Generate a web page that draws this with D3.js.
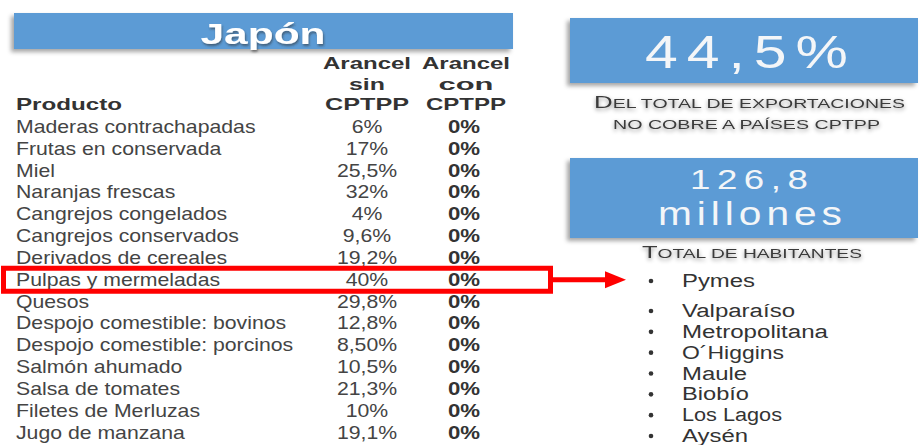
<!DOCTYPE html>
<html><head><meta charset="utf-8">
<script src="https://cdn.jsdelivr.net/npm/d3@7"></script>
<style>html,body{margin:0;padding:0;background:#fff;}svg{display:block;}</style>
</head><body>
<script>
// ---- data ----
const titulo = "Japón";
const encabezadoProducto = "Producto";
const encabezadoSin = ["Arancel", "sin", "CPTPP"];
const encabezadoCon = ["Arancel", "con", "CPTPP"];
const productos = ["Maderas contrachapadas","Frutas en conservada","Miel","Naranjas frescas","Cangrejos congelados","Cangrejos conservados","Derivados de cereales","Pulpas y mermeladas","Quesos","Despojo comestible: bovinos","Despojo comestible: porcinos","Salmón ahumado","Salsa de tomates","Filetes de Merluzas","Jugo de manzana"];
const arancelSin = ["6%","17%","25,5%","32%","4%","9,6%","19,2%","40%","29,8%","12,8%","8,50%","10,5%","21,3%","10%","19,1%"];
const arancelCon = ["0%","0%","0%","0%","0%","0%","0%","0%","0%","0%","0%","0%","0%","0%","0%"];
const destacado = "Pulpas y mermeladas";
const cifraExport = "44,5%";
const textoExport = [["D","EL TOTAL DE EXPORTACIONES"],["","NO COBRE A PAÍSES CPTPP"]];
const cifraHab = ["126,8", "millones"];
const textoHab = ["T","OTAL DE HABITANTES"];
const listaPymes = ["Pymes"];
const listaRegiones = ["Valparaíso","Metropolitana","O´Higgins","Maule","Biobío","Los Lagos","Aysén"];

// ---- layout ----
const W = 924, H = 445;
const BLUE = "#5b9bd5";
const svg = d3.select("body").append("svg").attr("width", W).attr("height", H);
const defs = svg.append("defs");
defs.append("filter").attr("id","boxsh").attr("x","-10%").attr("y","-20%").attr("width","120%").attr("height","150%")
  .append("feDropShadow").attr("dx",-3).attr("dy",3).attr("stdDeviation",2).attr("flood-color","#000").attr("flood-opacity",0.35);
defs.append("filter").attr("id","titsh").attr("x","-10%").attr("y","-20%").attr("width","120%").attr("height","160%")
  .append("feDropShadow").attr("dx",1).attr("dy",2).attr("stdDeviation",1.2).attr("flood-color","#333").attr("flood-opacity",0.55);
defs.append("filter").attr("id","glow").attr("x","-10%").attr("y","-40%").attr("width","120%").attr("height","200%")
  .append("feDropShadow").attr("dx",0).attr("dy",2).attr("stdDeviation",2).attr("flood-color","#000").attr("flood-opacity",0.45);

function txt(g, s, x, y, o) {
  const t = g.append("text")
    .attr("transform", `translate(${x},${y}) scale(${o.sx||1},1)`)
    .attr("text-anchor", o.anchor || "start")
    .attr("font-family", o.family || "'Liberation Sans', Arial, sans-serif")
    .attr("font-size", o.size)
    .attr("font-weight", o.weight || "normal")
    .attr("fill", o.fill || "#404040")
    .text(s);
  if (o.ls) t.attr("letter-spacing", o.ls);
  if (o.len) t.attr("textLength", o.len).attr("lengthAdjust", o.adjust || "spacingAndGlyphs");
  if (o.filter) t.attr("filter", o.filter);
  return t;
}
// stretch a text horizontally so that its ink box spans [x0, x1]
function fitSpan(t, x0, x1, y) {
  t.attr("transform", null).attr("text-anchor","start").attr("x",0).attr("y",0);
  const b = t.node().getBBox();
  const ls = +(t.attr("letter-spacing") || 0);
  const w = b.width - ls;
  const sx = (x1 - x0) / w;
  t.attr("transform", `translate(${x0 - b.x*sx},${y}) scale(${sx},1)`);
}

// ---- table ----
const table = svg.append("g");
table.append("rect").attr("x",14).attr("y",13).attr("width",499).attr("height",36).attr("fill",BLUE).attr("filter","url(#boxsh)");
txt(table, titulo, 263, 43.5, {anchor:"middle", size:30, weight:"bold", fill:"#fff", len:125, filter:"url(#titsh)"});

const colX = d3.scaleOrdinal().domain(["prod","sin","con"]).range([16, 367, 465]);
const headY = d3.scaleLinear().domain([0,2]).range([69, 110]);
txt(table, encabezadoProducto, colX("prod"), headY(2), {size:17, weight:"bold", fill:"#333", len:106});
const hdrLenSin = [88, 36, 84], hdrLenCon = [88, 55, 80];
encabezadoSin.forEach((s,i)=>txt(table, s, colX("sin"), headY(i), {anchor:"middle", size:17, weight:"bold", fill:"#333", len:hdrLenSin[i]}));
encabezadoCon.forEach((s,i)=>txt(table, s, colX("con")+1, headY(i), {anchor:"middle", size:17, weight:"bold", fill:"#333", len:hdrLenCon[i]}));

const rowY = d3.scaleLinear().domain([0, productos.length-1]).range([133, 438.5]);
productos.forEach((p,i)=>{
  txt(table, p, colX("prod"), rowY(i), {size:18, sx:1.18, fill:"#444"});
  txt(table, arancelSin[i], colX("sin"), rowY(i), {anchor:"middle", size:18, sx:1.18, fill:"#444"});
  txt(table, arancelCon[i], colX("con")-1, rowY(i), {anchor:"middle", size:17.5, weight:"bold", sx:1.27, fill:"#333"});
});

// highlight box + arrow
const hi = productos.indexOf(destacado);
const hy = rowY(hi);
svg.append("rect").attr("x",3.5).attr("y",hy-17.5).attr("width",547).attr("height",23)
  .attr("fill","none").attr("stroke","#ff0000").attr("stroke-width",5);
svg.append("line").attr("x1",553).attr("x2",607).attr("y1",hy-6).attr("y2",hy-6).attr("stroke","#ff0000").attr("stroke-width",5);
svg.append("path").attr("d",`M605,${hy-14.5} L626,${hy-6} L605,${hy+2.5} Z`).attr("fill","#ff0000");

// ---- right panels ----
const right = svg.append("g");
const bigFont = "'Liberation Sans', Arial, sans-serif";
right.append("rect").attr("x",570).attr("y",18).attr("width",348).attr("height",65).attr("fill",BLUE).attr("filter","url(#boxsh)");
fitSpan(txt(right, cifraExport, 0, 0, {size:46, family:bigFont, fill:"#f4f6f8", ls:7}), 645, 848, 68);

function smallCaps(g, parts, cx, y, len) {
  const t = g.append("text").attr("x", cx).attr("y", y).attr("text-anchor","middle")
    .attr("font-family","'Liberation Sans', Arial, sans-serif").attr("fill","#3a3a3a")
    .attr("filter","url(#glow)").attr("textLength", len).attr("lengthAdjust","spacingAndGlyphs");
  if (parts[0]) t.append("tspan").attr("font-size",17).text(parts[0]);
  t.append("tspan").attr("font-size",12.8).text(parts[1]);
  return t;
}
smallCaps(right, textoExport[0], 749.5, 107.5, 311);
smallCaps(right, textoExport[1], 746.5, 128.5, 267);

right.append("rect").attr("x",570).attr("y",158).attr("width",348).attr("height",80).attr("fill",BLUE).attr("filter","url(#boxsh)");
fitSpan(txt(right, cifraHab[0], 0, 0, {size:28, family:bigFont, fill:"#f4f6f8", ls:5}), 690, 808, 189);
fitSpan(txt(right, cifraHab[1], 0, 0, {size:33, family:bigFont, fill:"#f4f6f8", ls:4}), 658, 842, 225);
smallCaps(right, textoHab, 752, 258, 220);

// bullet list
const listY = d3.scaleLinear().domain([0, listaRegiones.length-1]).range([317, 442]);
function bullet(s, y, len) {
  right.append("circle").attr("cx",651).attr("cy",y-6).attr("r",2.3).attr("fill","#333");
  txt(right, s, 682, y, {size:18, fill:"#333", len:len});
}
bullet(listaPymes[0], 287, 73);
const regionLens = [113, 146, 102, 65, 67, 100, 66];
listaRegiones.forEach((r,i)=>bullet(r, listY(i), regionLens[i]));
</script>
</body></html>
